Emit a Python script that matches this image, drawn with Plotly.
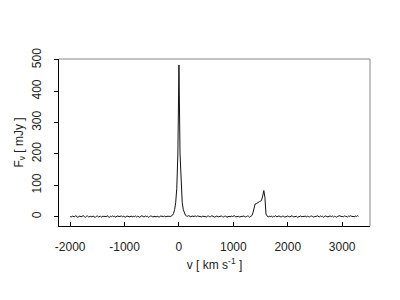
import plotly.graph_objects as go

# velocity channels (km/s), 20 km/s spacing from -2000 to 3300
v_start, v_step, n_chan = -2000, 20, 266
velocity = [v_start + v_step * i for i in range(n_chan)]

flux = [
    # -2000 .. -1620
    1, -2, 2, 0, -1, 3, 1, -2, 0, 2, -1, 1, 3, 0, -2, 1, 2, -1, 0, 1,
    # -1600 .. -1220
    -1, 2, 0, -3, 1, 2, -1, 0, 1, -2, 2, 0, 1, -1, 3, 0, -2, 1, 0, 2,
    # -1200 .. -820
    0, 1, -2, 2, 1, -1, 0, 3, -1, 1, 0, -2, 2, 1, 0, -1, 2, -1, 1, 0,
    # -800 .. -420
    2, -1, 1, 0, -2, 1, 3, 0, -1, 2, 0, 1, -2, 0, 2, 1, -1, 0, 1, -1,
    # -400 .. -20
    1, 0, -2, 2, 1, -1, 0, 2, -1, 1, 2, 1, 0, 2, 4, 10, 22, 45, 90, 200,
    # 0 .. 380
    484, 200, 90, 45, 22, 10, 4, 2, 1, 3, 0, -1, 2, 1, 0, 3, -1, 2, 1, 0,
    # 400 .. 780
    1, -1, 2, 0, 1, -2, 1, 2, 0, -1, 3, 1, 0, -2, 1, 2, -1, 0, 1, 2,
    # 800 .. 1180
    0, -1, 1, 2, -2, 0, 1, -1, 2, 0, 1, 3, -1, 0, 2, 1, -2, 1, 0, 2,
    # 1200 .. 1580
    1, -1, 0, 2, 1, -2, 1, 3, 12, 33, 40, 41, 44, 45, 48, 49, 53, 66, 83, 62,
    # 1600 .. 1980
    8, 2, -1, 1, 0, 2, -2, 1, 0, 3, -1, 1, 2, 0, -1, 1, 2, -2, 0, 1,
    # 2000 .. 2380
    2, 0, -1, 1, 3, -1, 0, 2, 1, -2, 0, 1, 2, -1, 1, 0, 2, -1, 1, 0,
    # 2400 .. 2780
    -1, 1, 2, 0, -2, 1, 0, 3, 1, -1, 2, 0, 1, -2, 1, 2, 0, -1, 1, 2,
    # 2800 .. 3180
    0, 2, -1, 1, 0, -2, 1, 2, 3, 0, 1, -1, 2, 1, 0, -1, 2, 1, 3, 0,
    # 3200 .. 3300
    1, -1, 2, 0, 3, 1,
]

x_ticks = [-2000, -1000, 0, 1000, 2000, 3000]
x_tick_labels = ["-2000", "-1000", "0", "1000", "2000", "3000"]
y_ticks = [0, 100, 200, 300, 400, 500]
y_tick_labels = ["0", "100", "200", "300", "400", "500"]

font = dict(family="Liberation Sans, Arial, sans-serif", size=12, color="#222")

fig = go.Figure()
fig.add_trace(go.Scatter(x=velocity, y=flux, mode="lines",
                         line=dict(color="#111", width=1), showlegend=False))

fig.update_layout(
    width=400, height=300,
    margin=dict(l=59, r=30, t=59, b=74),
    paper_bgcolor="white", plot_bgcolor="white",
    font=font,
    xaxis=dict(range=[-2205, 3512], tickvals=x_ticks, ticktext=x_tick_labels,
               ticks="inside", ticklen=4,
               tickcolor="black", showline=True, linecolor="black", linewidth=1,
               showgrid=False, zeroline=False, ticklabelstandoff=10,
               title=dict(text="v [ km s<sup>-1</sup> ]", standoff=7, font=font)),
    yaxis=dict(range=[-30, 503], tickvals=y_ticks, ticktext=y_tick_labels,
               ticks="outside", ticklen=4,
               tickcolor="black", showline=True, linecolor="black", linewidth=1,
               showgrid=False, zeroline=False, tickangle=-90, ticklabelstandoff=8,
               title=dict(text="F<sub>ν</sub> [ mJy ]", standoff=4, font=font)),
)

# grey box on top and right
fig.add_shape(type="line", xref="paper", yref="paper", x0=0, x1=1, y0=1, y1=1,
              line=dict(color="#888", width=1))
fig.add_shape(type="line", xref="paper", yref="paper", x0=1, x1=1, y0=0, y1=1,
              line=dict(color="#888", width=1))

fig.write_html("out.html")
